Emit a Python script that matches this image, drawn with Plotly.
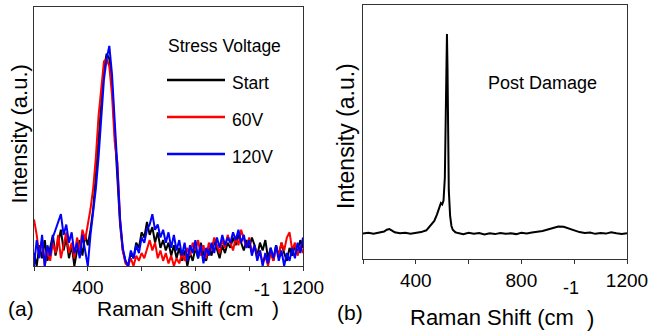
import plotly.graph_objects as go

# ---------------- data ----------------
x_a = list(range(200, 1201, 10))

start = [5, 0, 8, 3, 10, 2, 7, 12, 4, 9, 14, 6, 11, 3, 8, 0, 6, 10, 4, 12, 8,
         14, 22, 35, 50, 65, 76, 82, 80, 70, 52, 33, 16, 6, 2, 0, 5, 3, 9, 7, 13,
         11, 17, 12, 15, 9, 13, 7, 10, 6, 9, 4, 8, 3, 7, 2, 6, 0, 5, 2, 7,
         3, 9, 5, 2, 7, 4, 10, 6, 3, 8, 5, 9, 7, 11, 8, 12, 9, 6, 10, 7,
         11, 8, 4, 9, 6, 10, 3, 7, 2, 8, 4, 9, 5, 2, 7, 4, 8, 5, 10, 7]

v60 = [18, 12, 4, 10, 0, 6, 2, 9, 5, 12, 3, 8, 13, 5, 9, 3, 11, 6, 14, 10, 16,
       22, 30, 42, 58, 70, 79, 80, 77, 66, 48, 40, 18, 6, 1, 0, 3, 0, 4, 2, 5,
       3, 7, 10, 6, 9, 3, 6, 2, 5, 1, 4, 0, 3, 1, 5, 2, 7, 4, 9, 6,
       10, 4, 8, 3, 9, 6, 11, 8, 5, 10, 7, 12, 9, 6, 11, 8, 14, 10, 7, 11,
       5, 8, 3, 6, 1, 4, 0, 5, 2, 7, 4, 9, 6, 11, 13, 6, 9, 4, 8, 5]

v120 = [0, 10, 3, 12, 0, 8, 4, 11, 14, 17, 20, 12, 16, 9, 13, 5, 9, 3, 12, 6, 0,
        12, 20, 30, 42, 58, 72, 80, 85, 74, 58, 38, 18, 7, 2, 0, 6, 3, 8, 5, 11,
        9, 14, 16, 20, 14, 16, 11, 14, 9, 13, 7, 12, 6, 10, 4, 9, 2, 8, 5, 10,
        3, 8, 1, 7, 4, 9, 5, 11, 7, 12, 8, 11, 9, 13, 10, 14, 9, 12, 7, 10,
        4, 8, 2, 6, 0, 5, 1, 7, 3, 8, 2, 6, 0, 5, 2, 7, 3, 9, 5, 11]

x_b = [200, 220, 240, 260, 280, 290, 300, 310, 320, 340, 360, 380, 400, 420, 440,
       460, 470, 480, 490, 495, 500, 505, 510, 513, 516, 518, 520, 522, 525, 530,
       535, 540, 550, 560, 580, 600, 620, 640, 660, 680, 700, 720, 740, 760, 780,
       800, 820, 840, 860, 880, 900, 920, 940, 960, 980, 1000, 1020, 1040, 1060,
       1080, 1100, 1120, 1140, 1160, 1180, 1200]
post = [10.0, 10.3, 9.9, 10.4, 10.8, 11.5, 11.8, 11.2, 10.5, 10.1, 10.3, 9.9, 10.2, 10.6, 11.3,
        13.5, 15.0, 17.5, 20.5, 22.0, 21.5, 23.0, 32.0, 55.0, 86.0, 88.6, 76.0, 48.0, 27.0, 17.0,
        13.0, 11.5, 10.5, 10.2, 9.8, 10.3, 9.9, 10.2, 9.7, 10.1, 9.8, 10.2, 9.9, 10.1, 9.8,
        10.3, 10.0, 10.4, 10.6, 11.0, 11.6, 12.2, 12.8, 12.7, 12.0, 11.2, 10.6, 10.2, 10.4,
        9.9, 10.2, 10.0, 10.5, 10.1, 9.8, 10.1]

series_names = ["Start", "60V", "120V"]
series_vals = [start, v60, v120]
series_colors = ["#000000", "#ff0000", "#0000ff"]

tick_vals = [200, 400, 600, 800, 1000, 1200]
tick_text = ["", "400", "", "800", "", "1200"]

# ---------------- figure ----------------
W, H = 652, 333
FONT = "Arial, Liberation Sans, sans-serif"

fig = go.Figure()
for name, vals, col in zip(series_names, series_vals, series_colors):
    fig.add_trace(go.Scatter(x=x_a, y=vals, mode="lines", name=name,
                             line=dict(color=col, width=2), xaxis="x", yaxis="y",
                             showlegend=False))
fig.add_trace(go.Scatter(x=x_b, y=post, mode="lines", name="Post Damage",
                         line=dict(color="#000000", width=2), xaxis="x2", yaxis="y2",
                         showlegend=False))

def px_x(p):
    return p / W

def px_y(p):
    return (H - p) / H

axis_common = dict(showline=True, linecolor="#333333", linewidth=1, mirror=True,
                   showgrid=False, zeroline=False, automargin=False)
xcommon = dict(axis_common, range=[200, 1200], tickmode="array", tickvals=tick_vals,
               ticktext=tick_text, ticks="outside", ticklen=4, tickcolor="#333333",
               tickfont=dict(family=FONT, size=19, color="#000000"))
ycommon = dict(axis_common, range=[0, 100], showticklabels=False, ticks="")

fig.update_layout(
    width=W, height=H, margin=dict(l=0, r=0, t=0, b=0, autoexpand=False),
    paper_bgcolor="white", plot_bgcolor="white",
    font=dict(family=FONT, color="#000000"),
    xaxis=dict(xcommon, domain=[px_x(34), px_x(303)], anchor="y"),
    yaxis=dict(ycommon, domain=[px_y(266), px_y(7)], anchor="x"),
    xaxis2=dict(xcommon, domain=[px_x(363), px_x(627)], anchor="y2"),
    yaxis2=dict(ycommon, domain=[px_y(259), px_y(5)], anchor="x2"),
)

ann = []
def text(x, y, s, size, xanchor="center", angle=0):
    ann.append(dict(x=px_x(x), y=px_y(y), xref="paper", yref="paper", text=s,
                    showarrow=False, xanchor=xanchor, yanchor="middle",
                    textangle=angle, font=dict(family=FONT, size=size, color="#000000")))

# panel a texts
text(18.5, 134, "Intensity (a.u.)", 22, angle=-90)
text(174.5, 308, "Raman Shift (cm", 21)
text(262, 290, "-1", 18)
text(275.5, 308, ")", 21)
text(21, 308, "(a)", 21)
# legend
text(166, 46, "Stress Voltage", 17.5, xanchor="left")
legend_y = [80, 117, 154]
shapes = []
for name, col, ly in zip(series_names, series_colors, legend_y):
    shapes.append(dict(type="line", xref="paper", yref="paper",
                       x0=px_x(167), x1=px_x(225), y0=px_y(ly), y1=px_y(ly),
                       line=dict(color=col, width=2.5)))
    text(230, ly + 3, name, 17.5, xanchor="left")

# panel b texts
text(346, 136, "Intensity (a.u.)", 23, angle=-90)
text(492, 317, "Raman Shift (cm", 22)
text(571, 288, "-1", 18)
text(590, 318, ")", 22)
text(350, 312, "(b)", 21)
text(542.5, 83, "Post Damage", 18)

fig.update_layout(annotations=ann, shapes=shapes)
fig.write_html("out.html")
